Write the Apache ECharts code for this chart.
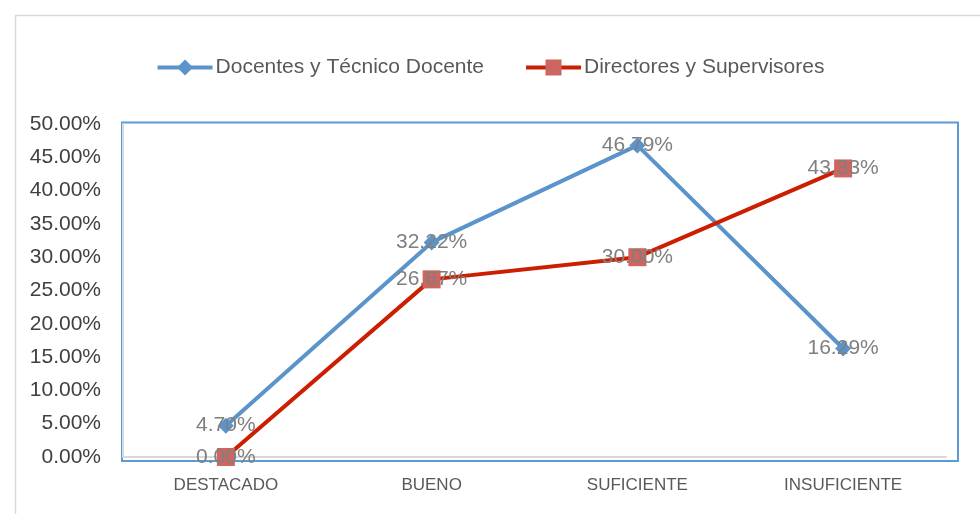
<!DOCTYPE html>
<html>
<head>
<meta charset="utf-8">
<script src="https://cdn.jsdelivr.net/npm/echarts@6/dist/echarts.min.js"></script>
<style>
html,body{margin:0;padding:0;background:#fff;}
#chart{width:980px;height:514px;}
</style>
</head>
<body>
<div id="chart"></div>
<script>
// niveles de desempeño
var categorias = ['DESTACADO', 'BUENO', 'SUFICIENTE', 'INSUFICIENTE'];
var docentes = [4.70, 32.22, 46.79, 16.29];
var directores = [0.00, 26.67, 30.00, 43.33];
var nombres = ['Docentes y Técnico Docente', 'Directores y Supervisores'];

var myChart = echarts.init(document.getElementById('chart'));
var etiqueta = {
    show: true,
    position: 'inside',
    color: '#7f7f7f',
    fontSize: 21,
    fontFamily: 'Liberation Sans',
    formatter: function (p) { return p.value.toFixed(2) + '%'; }
};
myChart.setOption({
    animation: false,
    graphic: [
        { type: 'rect', shape: { x: 15.5, y: 15.5, width: 980, height: 520 },
          style: { fill: 'none', stroke: '#d9d9d9', lineWidth: 1.5 }, silent: true },
        { type: 'rect', shape: { x: 122, y: 122.5, width: 836, height: 338.5 },
          style: { fill: 'none', stroke: '#5b9bd5', lineWidth: 2 }, silent: true, z: 0 }
    ],
    legend: {
        top: 52,
        left: 'center',
        itemWidth: 55,
        itemHeight: 20,
        itemGap: 40,
        lineStyle: { width: 4 },
        textStyle: { color: '#595959', fontSize: 21, fontFamily: 'Liberation Sans', padding: [0, 0, 0, -2] },
        data: nombres
    },
    grid: { left: 123, right: 34, top: 124, bottom: 57, containLabel: false },
    xAxis: {
        type: 'category',
        data: categorias,
        axisLine: { show: true, lineStyle: { color: '#d9d9d9', width: 2 } },
        axisTick: { show: false },
        axisLabel: { color: '#595959', fontSize: 17, margin: 20, fontFamily: 'Liberation Sans' }
    },
    yAxis: {
        type: 'value',
        min: 0,
        max: 50,
        interval: 5,
        axisLine: { show: true, lineStyle: { color: '#d9d9d9', width: 2 } },
        axisTick: { show: false },
        splitLine: { show: false },
        axisLabel: {
            color: '#404040', fontSize: 21, margin: 22,
            fontFamily: 'Liberation Sans',
            formatter: function (v) { return v.toFixed(2) + '%'; }
        }
    },
    series: [
        {
            name: nombres[0],
            type: 'line',
            data: docentes,
            symbol: 'diamond',
            symbolSize: 16,
            lineStyle: { color: '#5b93cb', width: 4 },
            itemStyle: { color: '#5b93cb' },
            label: etiqueta,
            z: 3
        },
        {
            name: nombres[1],
            type: 'line',
            data: directores,
            symbol: 'rect',
            symbolSize: 18,
            lineStyle: { color: '#cc1e00', width: 4 },
            itemStyle: { color: '#cd6560' },
            label: etiqueta,
            z: 3
        }
    ]
});
</script>
</body>
</html>
